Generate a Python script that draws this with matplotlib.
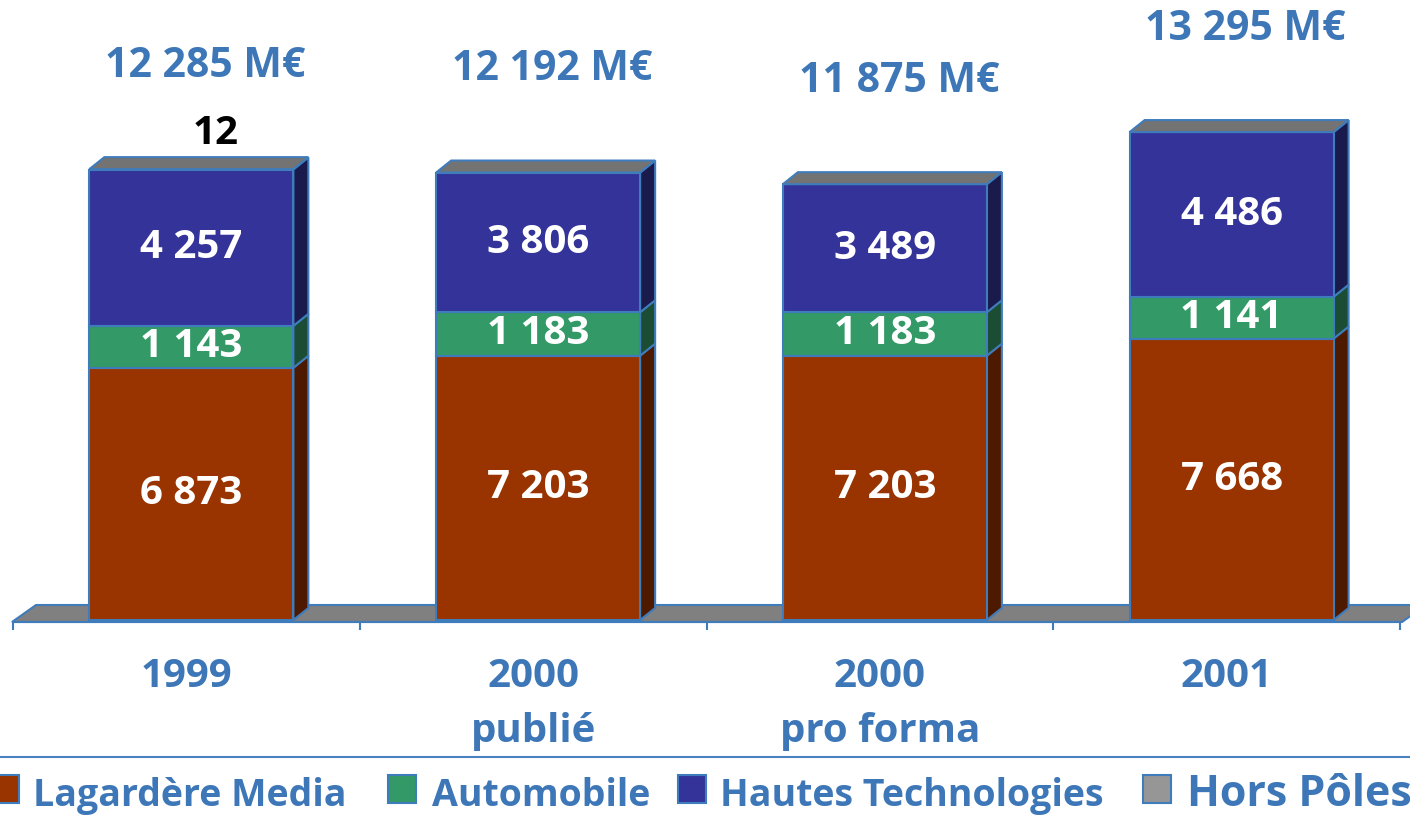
import numpy as np
import matplotlib
matplotlib.use("Agg")
import matplotlib.pyplot as plt
from matplotlib.patches import Polygon, Rectangle
from matplotlib.lines import Line2D

plt.rcParams['font.family'] = ['Open Sans', 'DejaVu Sans']

# data (M€)
categories = ['1999', '2000\npublié', '2000\npro forma', '2001']
media = [6873, 7203, 7203, 7668]
auto = [1143, 1183, 1183, 1141]
hautes = [4257, 3806, 3489, 4486]
hors = [12, 0, 0, 0]
totals = ['12 285 M€', '12 192 M€', '11 875 M€', '13 295 M€']
series_names = ['Lagardère Media', 'Automobile', 'Hautes Technologies', 'Hors Pôles']

# colours
front_cols = ['#993300', '#339966', '#333399']
side_cols = ['#4d1a00', '#1a4d33', '#1a1a4d']
top_col = '#737373'
floor_col = '#808080'
legend_cols = ['#993300', '#339966', '#333399', '#969696']
edge = '#3f7cbc'
txt_blue = '#3d77b7'

W, H = 1410, 816
fig = plt.figure(figsize=(W / 100, H / 100), dpi=100)
ax = fig.add_axes([13 / W, (H - 640) / H, (1400 - 13) / W, 640 / H])

# pixel scales
px_x = (1400 - 13) / 4.0      # px per category
px_y = 0.0367                 # px per M€
ax.set_xlim(-0.5, 3.5)
ax.set_ylim(-20 / px_y, 620 / px_y)

# 3d depth
dx = 15 / px_x
dy = 12 / px_y
bw = 204 / px_x
shift = 5 / px_x

# floor
fy0, fy1 = -2 / px_y, 15 / px_y
fx0, fx1 = -0.5 - 1 / px_x, 3.5 + 2 / px_x
fdx = 24 / px_x
ax.add_patch(Polygon([(fx0, fy0), (fx1, fy0), (fx1 + fdx, fy1), (fx0 + fdx, fy1)],
                     closed=True, facecolor=floor_col, edgecolor=edge, lw=1.5,
                     zorder=1, clip_on=False))

x = np.arange(len(categories)) + shift
bottoms = np.zeros(len(categories))
for vals, fc, sc in zip([media, auto, hautes], front_cols, side_cols):
    vals = np.array(vals, dtype=float)
    ax.bar(x, vals, bw, bottom=bottoms, color=fc, edgecolor=edge, lw=1.5, zorder=3)
    for i in range(len(x)):
        xr = x[i] + bw / 2
        y0, y1 = bottoms[i], bottoms[i] + vals[i]
        ax.add_patch(Polygon([(xr, y0), (xr + dx, y0 + dy), (xr + dx, y1 + dy), (xr, y1)],
                             closed=True, facecolor=sc, edgecolor=edge, lw=1.5, zorder=2))
        ax.text(x[i], (y0 + y1) / 2, f'{int(vals[i]):,}'.replace(',', ' '),
                ha='center', va='center', color='white', fontsize=29,
                fontweight='bold', zorder=5)
    bottoms = bottoms + vals

hors = np.array(hors, dtype=float)
tops = bottoms + hors
for i in range(len(x)):
    xl, xr = x[i] - bw / 2, x[i] + bw / 2
    t = tops[i]
    ax.add_patch(Polygon([(xl, t), (xl + dx, t + dy), (xr + dx, t + dy), (xr, t)],
                         closed=True, facecolor=top_col, edgecolor=edge, lw=1.5, zorder=4))
    if hors[i] > 0:
        ax.text(x[i] + 24 / px_x, t + dy + 24 / px_y, f'{int(hors[i])}',
                ha='center', va='center', color='black', fontsize=29,
                fontweight='bold', zorder=5)
    ax.text(x[i] + 14 / px_x, t + dy + 91 / px_y, totals[i],
            ha='center', va='center', color=txt_blue, fontsize=29.5,
            fontweight='bold', clip_on=False)

# axis line + ticks
for s in ['top', 'right', 'left']:
    ax.spines[s].set_visible(False)
ax.spines['bottom'].set_position(('data', fy0))
ax.spines['bottom'].set_color(edge)
ax.spines['bottom'].set_linewidth(1.5)
ax.set_yticks([])
ax.set_xticks([])
ax.set_xticks(np.arange(-0.5, 4, 1), minor=True)
ax.tick_params(axis='x', which='minor', direction='out', length=6, width=1.5,
               color=edge, labelbottom=False)
ax.patch.set_alpha(0)

# category labels
for i, lab in enumerate(categories):
    for j, line in enumerate(lab.split('\n')):
        ax.text(i, (620 - 687 - 55 * j) * (1 / px_y), line, ha='center', va='baseline',
                color=txt_blue, fontsize=29, fontweight='bold', clip_on=False)

# separator line
fig.add_artist(Line2D([0, 1], [(H - 757) / H] * 2, color='#4a82c0', lw=1.5))

# legend
sq_x = [-9, 388, 678, 1143]
txt_x = [33, 432, 720, 1187]
sizes = [27, 27, 27, 31]
for name, col, sx, tx, fs in zip(series_names, legend_cols, sq_x, txt_x, sizes):
    fig.add_artist(Rectangle((sx / W, (H - 803) / H), 28 / W, 28 / H,
                             facecolor=col, edgecolor=edge, lw=1.5))
    fig.text(tx / W, (H - 806) / H, name, ha='left', va='baseline',
             color=txt_blue, fontsize=fs, fontweight='bold')

fig.savefig('out.png', dpi=100)
